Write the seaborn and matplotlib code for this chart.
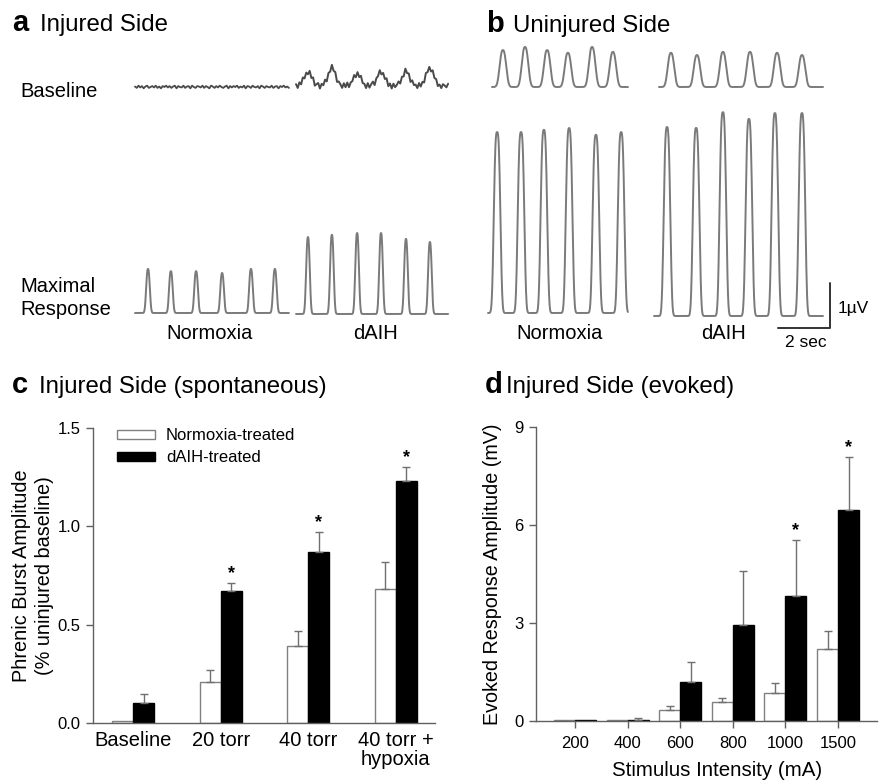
import numpy as np
import pandas as pd
import matplotlib
matplotlib.use("Agg")
import matplotlib.pyplot as plt
from matplotlib.patches import Patch
import seaborn as sns

# ---- panel c: spontaneous burst amplitude (injured side) ----
c_conditions = ["Baseline", "20 torr", "40 torr", "40 torr +\nhypoxia"]
c_normoxia = [0.01, 0.21, 0.39, 0.68]
c_normoxia_err = [0.0, 0.06, 0.08, 0.14]
c_daih = [0.10, 0.67, 0.87, 1.23]
c_daih_err = [0.05, 0.04, 0.10, 0.07]
c_star = [False, True, True, True]

# ---- panel d: evoked response amplitude ----
d_intensity = ["200", "400", "600", "800", "1000", "1500"]
d_normoxia = [0.03, 0.03, 0.34, 0.57, 0.85, 2.19]
d_normoxia_err = [0.0, 0.0, 0.13, 0.14, 0.32, 0.57]
d_daih = [0.04, 0.04, 1.18, 2.94, 3.84, 6.45]
d_daih_err = [0.0, 0.04, 0.62, 1.66, 1.70, 1.62]
d_star = [False, False, False, False, True, True]

groups = ["Normoxia-treated", "dAIH-treated"]

# ---- panels a/b: burst times (s) and peak amplitudes (uV) ----
a_norm_max_t = [0.50, 1.38, 2.35, 3.35, 4.46, 5.38]
a_norm_max_amp = [0.98, 0.93, 0.93, 0.89, 0.98, 0.98]
a_daih_max_t = [0.46, 1.38, 2.35, 3.27, 4.23, 5.15]
a_daih_max_amp = [1.71, 1.76, 1.80, 1.80, 1.67, 1.60]
a_daih_base_amp = [0.32, 0.40, 0.27, 0.32, 0.32, 0.40]
a_norm_base_noise = [0.01, -0.02, 0.03, -0.01, 0.02, -0.03, 0.01, 0.03, -0.02, 0.00,
                     0.02, -0.01, 0.03, -0.02, 0.01, -0.03, 0.02, 0.00, 0.03, -0.01,
                     0.02, -0.02, 0.01, 0.03, -0.03, 0.02, 0.00, -0.01, 0.03, -0.02,
                     0.01, 0.02, -0.03, 0.03, 0.00, -0.02, 0.02, 0.01, -0.01, 0.03,
                     -0.02, 0.02, 0.00, -0.03, 0.03, 0.01, -0.02, 0.02, -0.01, 0.03,
                     0.00, -0.02, 0.01, 0.03, -0.03, 0.02, -0.01, 0.02, 0.00, 0.03,
                     -0.02, 0.01, -0.01, 0.03, -0.03, 0.02, 0.01, -0.02, 0.03, 0.00,
                     -0.01, 0.02, -0.03, 0.03, 0.01, -0.02, 0.02, 0.00, -0.01, 0.03,
                     -0.02, 0.01, 0.02, -0.03, 0.02, 0.00, 0.03, -0.01, 0.01, -0.02]
a_daih_base_noise = [0.04, -0.05, 0.06, -0.02, 0.07, -0.04, 0.01, -0.06, 0.05, -0.03,
                     0.07, -0.05, 0.02, 0.06, -0.06, 0.04, -0.01, 0.07, -0.05, 0.03,
                     -0.04, 0.07, -0.02, 0.05, -0.06, 0.03, 0.01, -0.05, 0.06, -0.03,
                     0.07, -0.05, 0.02, -0.01, 0.05, -0.06, 0.04, -0.03, 0.07, -0.02,
                     0.01, -0.06, 0.06, -0.04, 0.03, 0.07, -0.05, 0.03, -0.01, 0.05,
                     -0.06, 0.02, -0.03, 0.07, -0.05, 0.04, -0.06, 0.05, -0.03, 0.01,
                     0.06, -0.04, 0.03, -0.05, 0.07, -0.02, 0.04, -0.06, 0.05, -0.01,
                     0.02, -0.05, 0.06, -0.03, 0.04, -0.04, 0.07, -0.02, 0.03, -0.06,
                     0.05, -0.01, 0.06, -0.04, 0.02, -0.05, 0.04, 0.01, -0.03, 0.05]
b_norm_top_t = [0.42, 1.27, 2.12, 2.92, 3.85, 4.65]
b_norm_top_amp = [0.82, 0.89, 0.82, 0.76, 0.89, 0.78]
b_daih_top_t = [0.46, 1.46, 2.46, 3.50, 4.54, 5.50]
b_daih_top_amp = [0.76, 0.71, 0.78, 0.78, 0.76, 0.71]
b_norm_max_t = [0.35, 1.27, 2.15, 3.12, 4.15, 5.12]
b_norm_max_amp = [4.02, 4.02, 4.07, 4.11, 3.96, 4.02]
b_daih_max_t = [0.50, 1.62, 2.65, 3.65, 4.65, 5.69]
b_daih_max_amp = [4.20, 4.18, 4.53, 4.38, 4.51, 4.51]

W, H = 882, 780
PX_S, PX_UV = 26.0, 45.0   # scale bar: 2 sec = 52 px, 1 uV = 45 px

sns.set_theme(style="ticks")
plt.rcParams["font.family"] = ["Liberation Sans", "DejaVu Sans"]
plt.rcParams["text.color"] = "black"
plt.rcParams["axes.labelcolor"] = "black"
plt.rcParams["xtick.labelcolor"] = "black"
plt.rcParams["ytick.labelcolor"] = "black"

fig = plt.figure(figsize=(W / 100, H / 100), dpi=100)


def fx(x):
    return x / W


def fy(y):
    return 1 - y / H


# overlay axes for the raw traces: x in seconds, y in uV
tr = fig.add_axes([0, 0, 1, 1])
tr.set_xlim(0, W / PX_S)
tr.set_ylim(0, H / PX_UV)
tr.axis("off")


def trace(x0, ybase, dur, times, amps, hw, p, noise=None, color="#7a7a7a", lw=1.4):
    n = len(noise) if noise is not None else 700
    t = np.linspace(0, dur, n)
    y = np.zeros(n)
    for tc, a in zip(times, amps):
        y += a * np.exp(-np.abs((t - tc) / hw) ** p)
    if noise is not None:
        y += np.asarray(noise)
    tr.plot(x0 / PX_S + t, (H - ybase) / PX_UV + y, color=color, lw=lw,
            solid_joinstyle="round")


# panel a traces
trace(135, 87, 5.92, [], [], 0.1, 2, noise=a_norm_base_noise, color="#4a4a4a", lw=1.3)
trace(296, 86, 5.85, a_daih_max_t, a_daih_base_amp, 0.2, 2,
      noise=a_daih_base_noise, color="#4a4a4a", lw=1.4)
trace(135, 313, 5.92, a_norm_max_t, a_norm_max_amp, 0.09, 2.5)
trace(296, 314, 5.85, a_daih_max_t, a_daih_max_amp, 0.09, 2.5)
# panel b traces
trace(492, 87, 5.23, b_norm_top_t, b_norm_top_amp, 0.16, 2.5)
trace(659, 87, 6.31, b_daih_top_t, b_daih_top_amp, 0.16, 2.5)
trace(488, 313, 5.38, b_norm_max_t, b_norm_max_amp, 0.15, 3)
trace(654, 316, 6.50, b_daih_max_t, b_daih_max_amp, 0.15, 3)

# scale bar (2 sec x 1 uV)
sx, sy = 830 / PX_S, (H - 328) / PX_UV
tr.plot([sx - 2, sx, sx], [sy, sy, sy + 1], color="#333333", lw=1.4)

# panel headers and trace labels
for letter, lx, tx, title, base in [("a", 12, 40, "Injured Side", 31),
                                    ("b", 486, 513, "Uninjured Side", 32),
                                    ("c", 12, 39, "Injured Side (spontaneous)", 393),
                                    ("d", 485, 506, "Injured Side (evoked)", 393)]:
    fig.text(fx(lx), fy(base), letter, fontsize=21, fontweight="bold", va="baseline")
    fig.text(fx(tx), fy(base), title, fontsize=17.3, va="baseline")

fig.text(fx(20), fy(97), "Baseline", fontsize=14.5, va="baseline")
fig.text(fx(20), fy(292), "Maximal", fontsize=14.5, va="baseline")
fig.text(fx(20), fy(315), "Response", fontsize=14.5, va="baseline")
for cx, lab in [(210, "Normoxia"), (376, "dAIH"), (560, "Normoxia"), (724, "dAIH")]:
    fig.text(fx(cx), fy(339), lab, fontsize=14.5, ha="center", va="baseline")
fig.text(fx(838), fy(313), "1\u00b5V", fontsize=12.5, va="baseline")
fig.text(fx(806), fy(347), "2 sec", fontsize=12.5, ha="center", va="baseline")

edge_col = {"Normoxia-treated": "#808080", "dAIH-treated": "black"}
pal = {"Normoxia-treated": "white", "dAIH-treated": "black"}


def bar_panel(ax, cats, vals, errs, stars, width, ylim, yticks, yfmt, star_pad):
    df = pd.DataFrame({"cat": cats * 2,
                       "val": vals[0] + vals[1],
                       "group": [groups[0]] * len(cats) + [groups[1]] * len(cats)})
    sns.barplot(data=df, x="cat", y="val", hue="group", hue_order=groups,
                palette=pal, width=width, errorbar=None, saturation=1,
                legend=False, linewidth=1.0, ax=ax)
    for cont, g, err in zip(ax.containers, groups, errs):
        for b in cont:
            b.set_edgecolor(edge_col[g])
        xs = np.array([b.get_x() + b.get_width() / 2 for b in cont])
        ys = np.array([b.get_height() for b in cont])
        e = np.asarray(err)
        m = e > 0
        ax.errorbar(xs[m], ys[m], yerr=[np.zeros(m.sum()), e[m]], fmt="none",
                    ecolor="#707070", elinewidth=1.0, capsize=3, capthick=1.0, zorder=1)
    black = ax.containers[1]
    for b, e, s in zip(black, errs[1], stars):
        if s:
            ax.text(b.get_x() + b.get_width() / 2, b.get_height() + e + star_pad, "*",
                    ha="center", va="center", fontsize=13, fontweight="bold")
    ax.set_ylim(*ylim)
    ax.set_yticks(yticks)
    ax.set_yticklabels([yfmt.format(v) for v in yticks])
    sns.despine(ax=ax)
    for sp in ["left", "bottom"]:
        ax.spines[sp].set_color("#606060")
        ax.spines[sp].set_linewidth(1.0)
    ax.tick_params(axis="y", length=5, width=1.0, color="#606060", labelsize=12, pad=4)


# panel c
axc = fig.add_axes([fx(93), fy(723), (435 - 93) / W, (723 - 428) / H])
bar_panel(axc, c_conditions, [c_normoxia, c_daih], [c_normoxia_err, c_daih_err],
          c_star, 0.48, (0, 1.5), [0.0, 0.5, 1.0, 1.5], "{:.1f}", 0.05)
axc.set_xlim(-0.46, 3.45)
axc.tick_params(axis="x", length=0, labelsize=14.5, pad=6)
for lab in axc.get_xticklabels():
    lab.set_linespacing(0.95)
axc.set_xlabel("")
axc.set_ylabel("Phrenic Burst Amplitude\n(% uninjured baseline)", fontsize=14.3,
               linespacing=1.25)
axc.yaxis.set_label_coords(-0.115, 0.5)
axc.legend(handles=[Patch(facecolor="white", edgecolor="#808080", lw=1.0),
                    Patch(facecolor="black", edgecolor="black", lw=1.0)],
           labels=groups, loc="upper left", bbox_to_anchor=(0.07, 1.0),
           frameon=False, fontsize=12, handlelength=2.3, handleheight=0.45,
           handletextpad=0.65, labelspacing=0.45, borderpad=0, borderaxespad=0)

# panel d
axd = fig.add_axes([fx(536), fy(721), (877 - 536) / W, (721 - 427) / H])
bar_panel(axd, d_intensity, [d_normoxia, d_daih], [d_normoxia_err, d_daih_err],
          d_star, 0.8, (0, 9), [0, 3, 6, 9], "{:d}", 0.3)
axd.set_xlim(-0.74, 5.74)
axd.tick_params(axis="x", length=5, width=1.0, color="#606060", labelsize=12, pad=6)
axd.set_xlabel("Stimulus Intensity (mA)", fontsize=14.8)
axd.xaxis.set_label_coords(0.53, -0.135)
axd.set_ylabel("Evoked Response Amplitude (mV)", fontsize=14.2)
axd.yaxis.set_label_coords(-0.10, 0.5)

fig.savefig("out.png", dpi=100)
